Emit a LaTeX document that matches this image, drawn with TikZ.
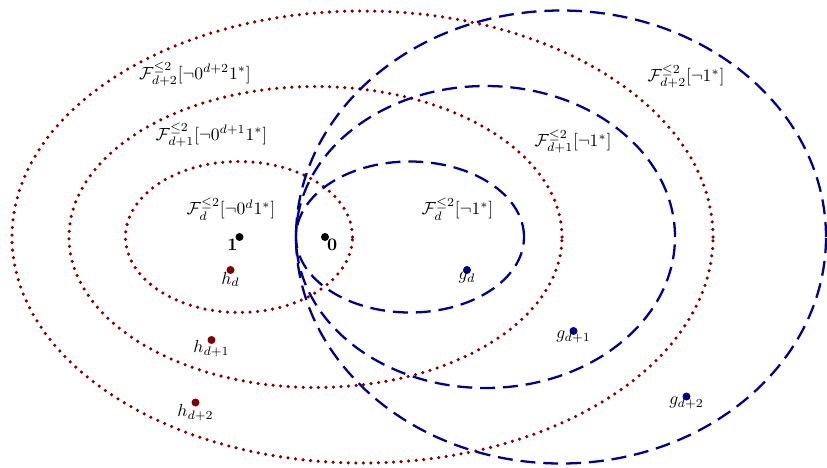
\documentclass[tikz,border=0pt]{standalone}
\usepackage{amsmath}
\usepackage{amssymb}
\usepackage{tikz}
\usetikzlibrary{calc}
\definecolor{dred}{RGB}{128,0,0}
\definecolor{dnavy}{RGB}{0,0,139}

\begin{document}
\begin{tikzpicture}[font=\normalsize,
  redset/.style={dred, line width=2pt, line cap=round, dash pattern=on 0pt off 4.3pt},
  blueset/.style={dnavy, line width=1.3pt, dash pattern=on 8.5pt off 4.5pt},
  lbl/.style={inner sep=1pt}]
  \useasboundingbox (0,-4.6) rectangle (16.54,4.74);
  % Centres of the families
  \coordinate (C0) at (4.78,0);
  \coordinate (C1) at (6.31,0);
  \coordinate (C2) at (7.25,0);
  \coordinate (D0) at (8.20,0);
  \coordinate (D1) at (9.71,0);
  \coordinate (D2) at (11.22,0);
  % Points
  \coordinate (one)  at (4.79,0);
  \coordinate (zero) at (6.50,0);
  \coordinate (H0) at (4.61,-0.66);
  \coordinate (H1) at (4.23,-2.06);
  \coordinate (H2) at (3.91,-3.31);
  \coordinate (G0) at (9.34,-0.66);
  \coordinate (G1) at (11.47,-1.88);
  \coordinate (G2) at (13.73,-3.19);
  % Red dotted ellipses
  \draw[redset] (C0) ellipse [x radius=2.27, y radius=1.51];
  \draw[redset] (C1) ellipse [x radius=4.93, y radius=3.01];
  \draw[redset] (C2) ellipse [x radius=7.01, y radius=4.52];
  % Blue dashed ellipses
  \draw[blueset] (D0) ellipse [x radius=2.28, y radius=1.51];
  \draw[blueset] (D1) ellipse [x radius=3.79, y radius=3.02];
  \draw[blueset] (D2) ellipse [x radius=5.30, y radius=4.53];
  % Point markers
  \foreach \pt in {one,zero}
    \fill (\pt) circle (0.08);
  \foreach \pt in {H0,H1,H2}
    \fill[dred] (\pt) circle (0.08);
  \foreach \pt in {G0,G1,G2}
    \fill[dnavy] (\pt) circle (0.08);
  % Point labels
  \node[lbl, below left]  (lone)  at (one)  {$\mathbf{1}$};
  \node[lbl, below right] (lzero) at (zero) {$\mathbf{0}$};
  \node[lbl, below] (lH0) at (H0) {$h_d$};
  \node[below, inner sep=0pt] (lH1) at (H1) {$h_{d+1}$};
  \node[lbl, below] (lH2) at (H2) {$h_{d+2}$};
  \node[lbl, below] (lG0) at (G0) {$g_d$};
  \node[below, inner sep=0pt] (lG1) at (G1) {$g_{d+1}$};
  \node[below, inner sep=0pt] (lG2) at (G2) {$g_{d+2}$};
  % Family labels
  \node (fH0) at (4.62,0.56) {$\mathcal{F}^{\leq 2}_{d}[\neg 0^{d}1^{*}]$};
  \node (fH1) at (4.23,2.04) {$\mathcal{F}^{\leq 2}_{d+1}[\neg 0^{d+1}1^{*}]$};
  \node (fH2) at (3.90,3.26) {$\mathcal{F}^{\leq 2}_{d+2}[\neg 0^{d+2}1^{*}]$};
  \node (fG0) at (9.15,0.56) {$\mathcal{F}^{\leq 2}_{d}[\neg 1^{*}]$};
  \node (fG1) at (11.46,1.91) {$\mathcal{F}^{\leq 2}_{d+1}[\neg 1^{*}]$};
  \node (fG2) at (13.72,3.21) {$\mathcal{F}^{\leq 2}_{d+2}[\neg 1^{*}]$};
\end{tikzpicture}
\end{document}
